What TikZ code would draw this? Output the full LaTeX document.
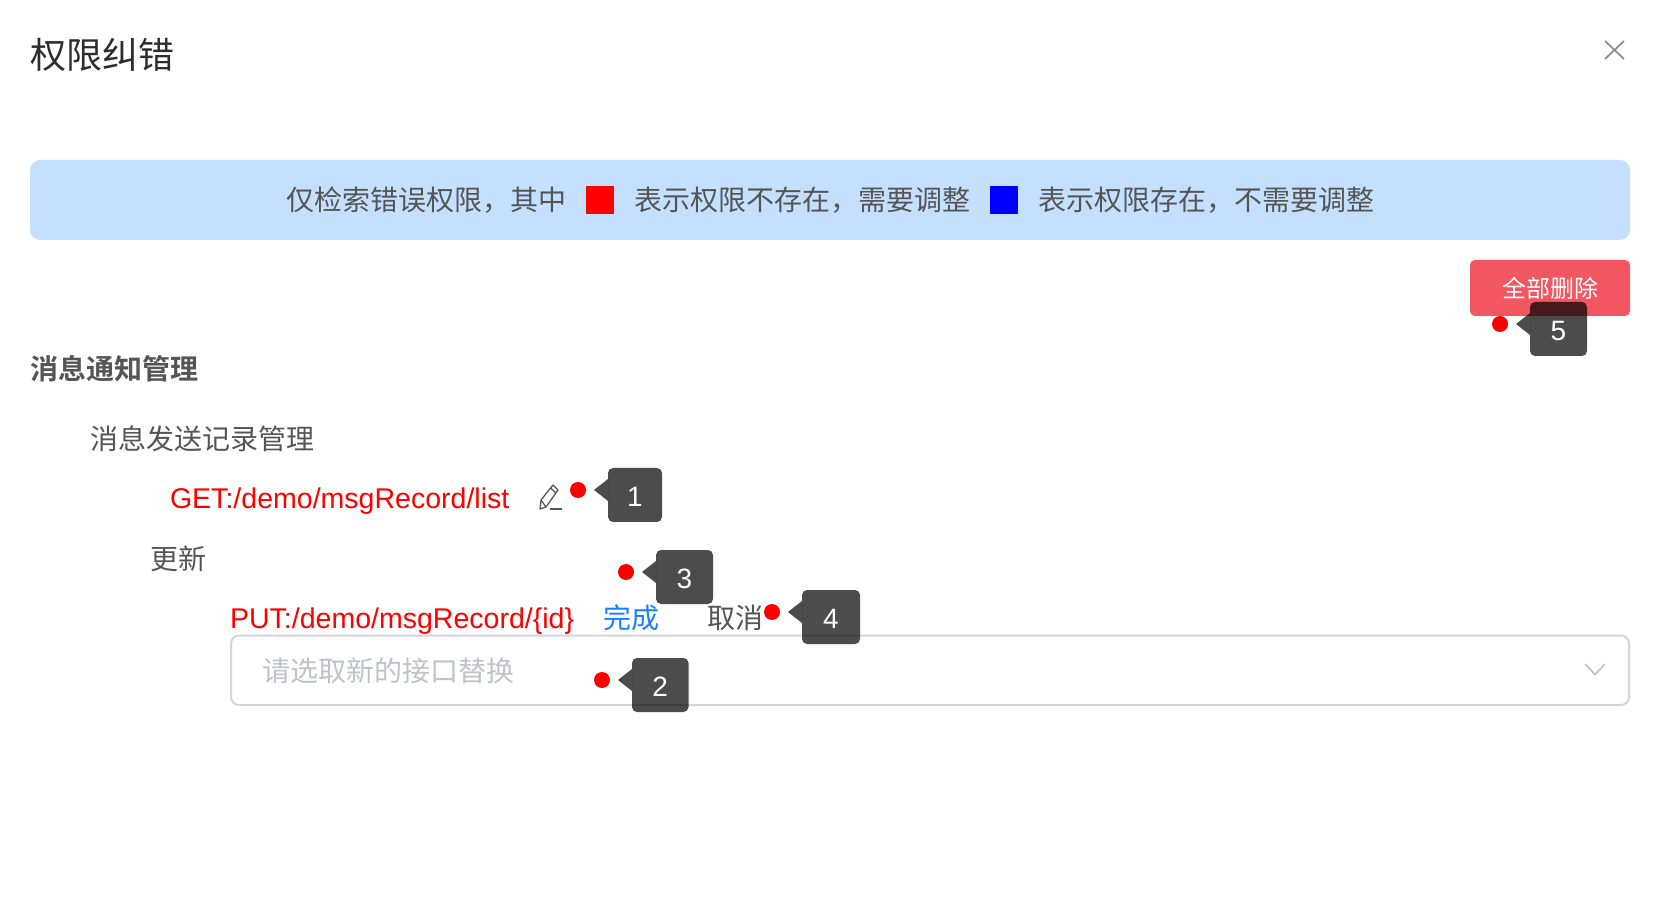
\documentclass[tikz,border=0pt]{standalone}
\usepackage{fontspec}
\setmainfont{Liberation Sans}
\newfontfamily\cjk{Noto Sans CJK SC}
\newfontfamily\cjkb{Noto Sans CJK SC Bold}
\definecolor{bannerblue}{HTML}{C5E0FF}
\definecolor{bodygray}{HTML}{555555}
\definecolor{titledark}{HTML}{2D2D2D}
\definecolor{btnred}{HTML}{F25660}
\definecolor{linkblue}{HTML}{1A7FFF}
\definecolor{holdergray}{HTML}{BFC2CC}
\definecolor{bordergray}{HTML}{D2D4DE}
\definecolor{iconhalf}{HTML}{8A8C92}
\tikzset{
  txt/.style={inner sep=0pt,outer sep=0pt,anchor=west,text=bodygray,font=\cjk\fontsize{21}{21}\selectfont},
  apitxt/.style={inner sep=0pt,outer sep=0pt,anchor=west,text=red,font=\fontsize{21.4}{21.4}\selectfont},
  dot/.style={circle,fill=red,draw=none,minimum size=12pt,inner sep=0pt},
  tipbox/.style={fill=black,fill opacity=0.7,draw=none,rounded corners=3.75pt},
  tipnum/.style={inner sep=0pt,text=white,font=\fontsize{21}{21}\selectfont},
}
\newcommand{\tooltip}[4]{% left x, centre y of tip, number, width
  \fill[black,fill opacity=0.7] (#1,#2-11) -- (#1-14,#2) -- (#1,#2+11) -- cycle;
  \fill[tipbox] (#1,#2-22) rectangle (#1+#4,#2+32);
  \node[tipnum] (num#3) at (#1+#4/2,#2+7) {#3};
}
\begin{document}
\begin{tikzpicture}[x=0.75pt,y=-0.75pt]
\useasboundingbox (0,0) rectangle (1668,898);
\fill[white] (0,0) rectangle (1668,898);
% title and close
\node[txt,text=titledark,font=\cjk\fontsize{27}{27}\selectfont] (title) at (31,55) {权限纠错};
\coordinate (xa) at (1605,41); \coordinate (xb) at (1624,59);
\coordinate (xc) at (1624,41); \coordinate (xd) at (1605,59);
\draw[iconhalf,line width=1.3pt] (xa) -- (xb) (xc) -- (xd);
% banner
\fill[bannerblue,rounded corners=7.5pt] (30,160) rectangle (1630,240);
\node[txt] (b1) at (286,200.5) {仅检索错误权限，其中};
\fill[red] (586,186) rectangle (614,214);
\node[txt] (b2) at (634,200.5) {表示权限不存在，需要调整};
\fill[blue] (990,186) rectangle (1018,214);
\node[txt] (b3) at (1038,200.5) {表示权限存在，不需要调整};
% button
\fill[btnred,rounded corners=3.75pt] (1470,260) rectangle (1630,316);
\node[txt,text=white,font=\cjk\fontsize{18}{18}\selectfont] (btn) at (1502,288) {全部删除};
% tree
\node[txt,font=\cjkb\fontsize{21}{21}\selectfont] (h1) at (31,369) {消息通知管理};
\node[txt] (h2) at (90,439) {消息发送记录管理};
\node[apitxt] (get) at (170,501) {GET:/demo/msgRecord/list};
\node[txt] (h3) at (150,559) {更新};
\node[apitxt] (put) at (230,621) {PUT:/demo/msgRecord/\{id\}};
\node[txt,text=linkblue] (done) at (603,618) {完成};
\node[txt] (cancel) at (707,618) {取消};
% pencil icon
\draw[bodygray,line width=0.95pt,line join=round]
  (540,509) -- (541,500) -- (553,485) -- (558,490) -- (546,507) -- cycle
  (550.5,488) -- (556,493) (541,500) -- (546,507);
\draw[bodygray,line width=1.1pt] (550,509) -- (562,509);
% select
\draw[bordergray,line width=1.5pt,rounded corners=6pt] (231,635.5) rectangle (1629,705);
\node[txt,text=holdergray] (hold) at (262,670.5) {请选取新的接口替换};
\coordinate (cha) at (1585,664); \coordinate (chb) at (1595,674.5); \coordinate (chc) at (1605,664);
\draw[holdergray,line width=1.2pt] (cha) -- (chb) -- (chc);
% markers
\node[dot] (d1) at (578,490) {};
\node[dot] (d2) at (602,680) {};
\node[dot] (d3) at (626,572) {};
\node[dot] (d4) at (772,612) {};
\node[dot] (d5) at (1500,324) {};
\tooltip{608}{490}{1}{54}
\tooltip{632}{680}{2}{56.5}
\tooltip{656}{572}{3}{57}
\tooltip{802}{612}{4}{58}
\tooltip{1530}{324}{5}{57}
\end{tikzpicture}
\end{document}
